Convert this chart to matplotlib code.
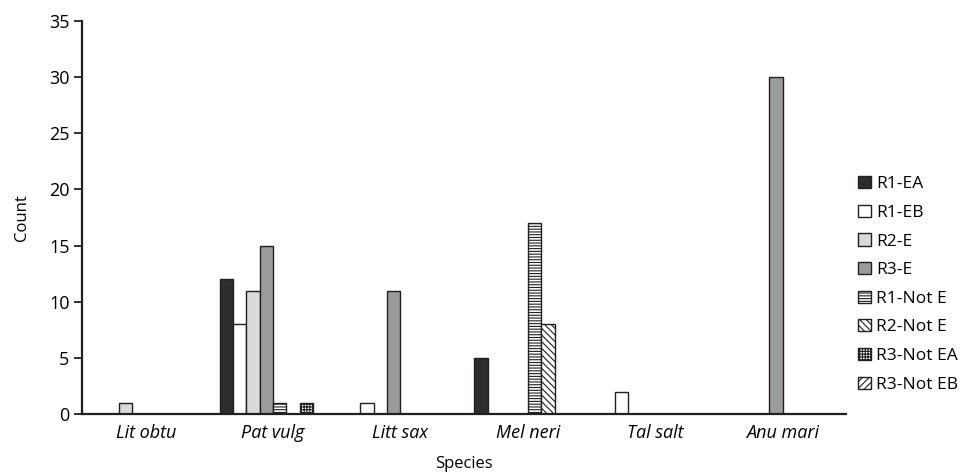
import numpy as np
import matplotlib.pyplot as plt

plt.rcParams['font.family'] = ['Open Sans', 'DejaVu Sans']
plt.rcParams['hatch.linewidth'] = 0.8

species = ["Lit obtu", "Pat vulg", "Litt sax", "Mel neri", "Tal salt", "Anu mari"]
series = ["R1-EA", "R1-EB", "R2-E", "R3-E", "R1-Not E", "R2-Not E", "R3-Not EA", "R3-Not EB"]

r1_ea = [0, 12, 0, 5, 0, 0]
r1_eb = [0, 8, 1, 0, 2, 0]
r2_e = [1, 11, 0, 0, 0, 0]
r3_e = [0, 15, 11, 0, 0, 30]
r1_not_e = [0, 1, 0, 17, 0, 0]
r2_not_e = [0, 0, 0, 8, 0, 0]
r3_not_ea = [0, 1, 0, 0, 0, 0]
r3_not_eb = [0, 0, 0, 0, 0, 0]

values = [r1_ea, r1_eb, r2_e, r3_e, r1_not_e, r2_not_e, r3_not_ea, r3_not_eb]
faces = ["#2e2c2d", "white", "#d9dadb", "#9a9b9d", "white", "white", "white", "white"]
hatches = [None, None, None, None, "------", "\\\\\\\\\\", "++++++", "/////"]

fig = plt.figure(figsize=(9.65, 4.75), dpi=100)
ax = fig.add_axes([0.085, 0.128, 0.792, 0.828])

x = np.arange(len(species))
w = 0.105
for i, (name, vals) in enumerate(zip(series, values)):
    ax.bar(x + (i - 3.5) * w, vals, w, color=faces[i], edgecolor="#231f20",
           linewidth=1.0, hatch=hatches[i], label=name)

ax.set_xlim(-0.5, len(species) - 0.5)
ax.set_ylim(0, 35)
ax.set_yticks(range(0, 36, 5))
ax.set_xticks(x)
ax.set_xticklabels(species, fontstyle="italic", fontsize=13)
ax.tick_params(axis="x", length=0, pad=7)
ax.tick_params(axis="y", labelsize=13, length=6, width=1.3, color="#231f20", pad=3)
ax.set_xlabel("Species", fontsize=12, labelpad=10)
ax.set_ylabel("Count", fontsize=12, labelpad=14)
for s in ["top", "right"]:
    ax.spines[s].set_visible(False)
for s in ["left", "bottom"]:
    ax.spines[s].set_linewidth(1.6)
    ax.spines[s].set_color("#231f20")

ax.legend(loc="center left", bbox_to_anchor=(1.0, 0.33), frameon=False,
          fontsize=12.5, handlelength=0.7, handleheight=0.7,
          handletextpad=0.3, labelspacing=0.72, borderaxespad=0.3)

fig.savefig("out.png", dpi=100)
